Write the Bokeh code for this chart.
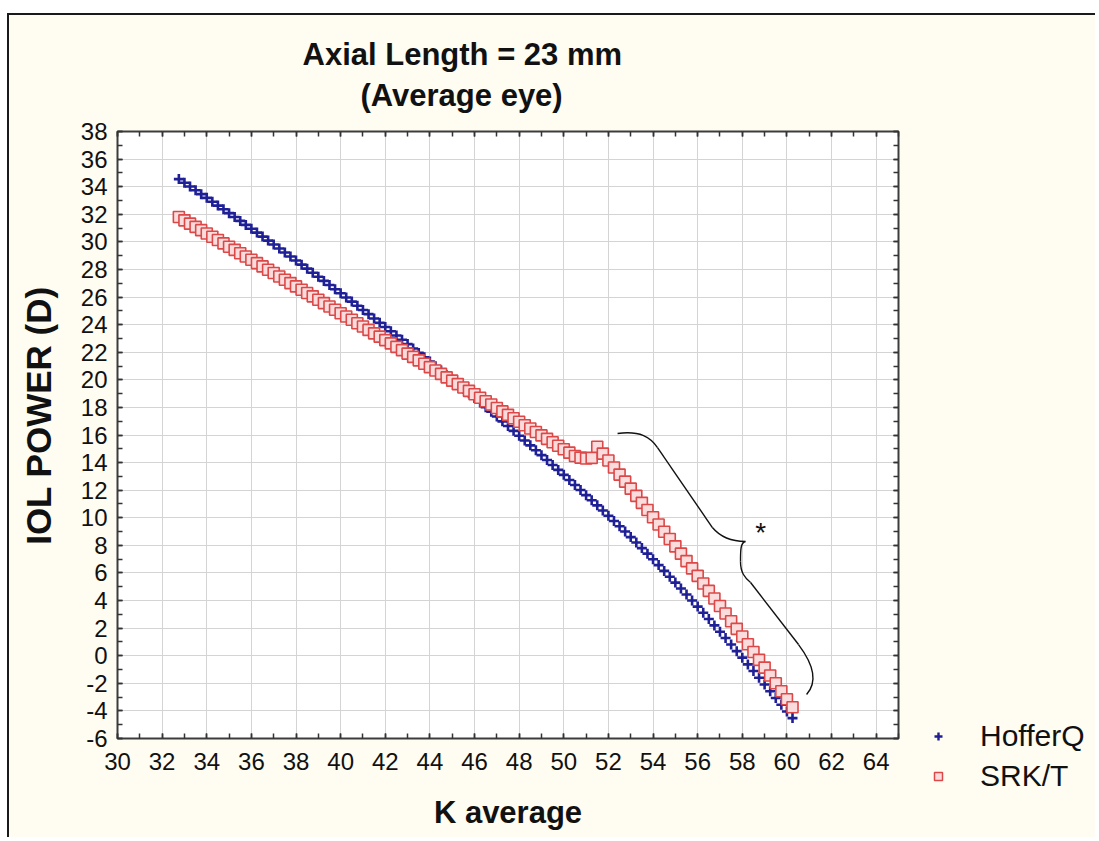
from bokeh.plotting import figure
from bokeh.layouts import row
from bokeh.models import Range1d, FixedTicker, LinearAxis, Label, Legend, Title
from bokeh.embed import file_html
from bokeh.resources import INLINE

# ---------------- data ----------------
k_avg = [32.75, 33.0, 33.25, 33.5, 33.75, 34.0, 34.25, 34.5, 34.75, 35.0,
         35.25, 35.5, 35.75, 36.0, 36.25, 36.5, 36.75, 37.0, 37.25, 37.5,
         37.75, 38.0, 38.25, 38.5, 38.75, 39.0, 39.25, 39.5, 39.75, 40.0,
         40.25, 40.5, 40.75, 41.0, 41.25, 41.5, 41.75, 42.0, 42.25, 42.5,
         42.75, 43.0, 43.25, 43.5, 43.75, 44.0, 44.25, 44.5, 44.75, 45.0,
         45.25, 45.5, 45.75, 46.0, 46.25, 46.5, 46.75, 47.0, 47.25, 47.5,
         47.75, 48.0, 48.25, 48.5, 48.75, 49.0, 49.25, 49.5, 49.75, 50.0,
         50.25, 50.5, 50.75, 51.0, 51.25, 51.5, 51.75, 52.0, 52.25, 52.5,
         52.75, 53.0, 53.25, 53.5, 53.75, 54.0, 54.25, 54.5, 54.75, 55.0,
         55.25, 55.5, 55.75, 56.0, 56.25, 56.5, 56.75, 57.0, 57.25, 57.5,
         57.75, 58.0, 58.25, 58.5, 58.75, 59.0, 59.25, 59.5, 59.75, 60.0,
         60.25]

hofferq = [34.55, 34.28, 34.01, 33.74, 33.46, 33.19, 32.91, 32.63, 32.36, 32.08,
           31.80, 31.52, 31.23, 30.95, 30.67, 30.38, 30.09, 29.81, 29.52, 29.23,
           28.94, 28.65, 28.35, 28.06, 27.76, 27.47, 27.17, 26.87, 26.57, 26.27,
           25.97, 25.67, 25.37, 25.06, 24.76, 24.45, 24.14, 23.83, 23.52, 23.21,
           22.90, 22.59, 22.27, 21.95, 21.64, 21.32, 20.99, 20.67, 20.34, 20.02,
           19.69, 19.36, 19.03, 18.69, 18.36, 18.02, 17.68, 17.34, 16.99, 16.65,
           16.30, 15.95, 15.60, 15.25, 14.90, 14.54, 14.19, 13.83, 13.47, 13.11,
           12.74, 12.38, 12.01, 11.64, 11.27, 10.90, 10.53, 10.15, 9.77, 9.39,
           9.00, 8.60, 8.21, 7.80, 7.40, 6.99, 6.57, 6.15, 5.73, 5.30,
           4.87, 4.44, 4.00, 3.56, 3.11, 2.66, 2.20, 1.74, 1.28, 0.81,
           0.33, -0.14, -0.63, -1.11, -1.60, -2.09, -2.57, -3.06, -3.55, -4.04,
           -4.52]

srkt = [31.80, 31.56, 31.32, 31.09, 30.85, 30.61, 30.37, 30.13, 29.89, 29.65,
        29.42, 29.18, 28.94, 28.70, 28.46, 28.22, 27.98, 27.74, 27.49, 27.25,
        27.01, 26.77, 26.53, 26.29, 26.05, 25.80, 25.56, 25.32, 25.08, 24.83,
        24.59, 24.35, 24.10, 23.86, 23.62, 23.37, 23.13, 22.88, 22.64, 22.39,
        22.15, 21.90, 21.66, 21.41, 21.17, 20.92, 20.68, 20.43, 20.18, 19.94,
        19.69, 19.44, 19.20, 18.95, 18.70, 18.45, 18.21, 17.96, 17.71, 17.46,
        17.21, 16.96, 16.71, 16.47, 16.22, 15.97, 15.72, 15.47, 15.22, 14.97,
        14.72, 14.48, 14.36, 14.30, 14.34, 15.15, 14.65, 14.15, 13.64, 13.13,
        12.62, 12.11, 11.59, 11.08, 10.56, 10.04, 9.51, 8.99, 8.46, 7.93,
        7.40, 6.86, 6.33, 5.79, 5.24, 4.70, 4.15, 3.61, 3.06, 2.50,
        1.95, 1.39, 0.83, 0.27, -0.30, -0.86, -1.43, -2.00, -2.58, -3.15,
        -3.73]

x_major = [30, 32, 34, 36, 38, 40, 42, 44, 46, 48, 50, 52, 54, 56, 58, 60, 62, 64]
x_minor = list(range(30, 66))
y_major = [-6, -4, -2, 0, 2, 4, 6, 8, 10, 12, 14, 16, 18, 20, 22, 24, 26, 28, 30, 32, 34, 36, 38]
y_minor = list(range(-6, 39))

title_1 = "Axial Length = 23 mm"
title_2 = "(Average eye)"
x_title = "K average"
y_title = "IOL POWER (D)"
series_names = ["HofferQ", "SRK/T"]

# ---------------- styles ----------------
FONT = "Liberation Sans"
CREAM = "#FFFCF1"
BLUE = "#1f1f96"
RED_LINE = "#dc4848"
RED_FILL = "#fbdcdc"

# ---------------- main figure ----------------
p = figure(width=910, height=822,
           x_range=Range1d(30, 65), y_range=Range1d(-6, 38),
           output_backend="svg", toolbar_location=None,
           min_border_left=108, min_border_right=21,
           min_border_top=116, min_border_bottom=99)
p.title = None
p.background_fill_color = "white"
p.border_fill_color = CREAM
p.outline_line_color = "#3c3c3c"
p.outline_line_width = 2

xt = FixedTicker(ticks=x_major, minor_ticks=x_minor)
yt = FixedTicker(ticks=y_major, minor_ticks=y_minor)

top_axis = LinearAxis(ticker=xt, major_label_overrides={t: "" for t in x_major},
                      major_label_standoff=0)
right_axis = LinearAxis(ticker=yt, major_label_overrides={t: "" for t in y_major},
                        major_label_standoff=0)
p.add_layout(top_axis, "above")
p.add_layout(right_axis, "right")

p.below[0].ticker = xt
p.left[0].ticker = yt

for ax in p.axis:
    ax.axis_line_color = None
    ax.major_tick_in = 5
    ax.major_tick_out = 0
    ax.minor_tick_in = 5
    ax.minor_tick_out = 0
    ax.major_tick_line_color = "#333333"
    ax.minor_tick_line_color = "#333333"
    ax.major_tick_line_width = 1.5
    ax.minor_tick_line_width = 1.5
    ax.major_label_text_font = FONT
    ax.major_label_text_font_size = "24px"
    ax.major_label_text_color = "#111111"
    ax.axis_label_text_font = FONT
    ax.axis_label_text_font_style = "bold"
    ax.axis_label_text_color = "#111111"

# invisible spacer above the top ticks: lifts the two title lines
spacer_axis = LinearAxis(ticker=xt, major_label_overrides={t: "" for t in x_major},
                         major_label_standoff=0, axis_line_color=None,
                         major_tick_in=0, major_tick_out=17,
                         minor_tick_in=0, minor_tick_out=0,
                         major_tick_line_color=None, minor_tick_line_color=None)
p.add_layout(spacer_axis, "above")

xb = p.below[0]
xb.major_label_standoff = 14
xb.axis_label = x_title
xb.axis_label_text_font_size = "31px"
xb.axis_label_standoff = 22

yl = p.left[0]
yl.major_label_standoff = 10
yl.major_label_overrides = {-6: "-6", -4: "-4", -2: "-2"}
yl.axis_label = "\u00a0\u00a0\u00a0\u00a0" + y_title
yl.axis_label_text_font_size = "35px"
yl.axis_label_standoff = 20

p.xgrid.ticker = xt
p.ygrid.ticker = yt
p.grid.grid_line_color = "#d4d4d4"
p.grid.grid_line_width = 1

# ---------------- titles ----------------
t2 = Title(text=title_2, align="left", offset=243, text_font=FONT, text_font_size="31px",
           text_font_style="bold", text_color="#111111", standoff=4)
t1 = Title(text=title_1, align="left", offset=185, text_font=FONT, text_font_size="31px",
           text_font_style="bold", text_color="#111111", standoff=4)
p.add_layout(t2, "above")
p.add_layout(t1, "above")

# ---------------- series ----------------
p.scatter(k_avg, hofferq, marker="cross", size=10, line_color=BLUE, line_width=2.6)
p.scatter(k_avg, srkt, marker="square", size=11,
          line_color=RED_LINE, fill_color=RED_FILL, line_width=1.6)

# ---------------- brace and asterisk ----------------
bk = dict(line_color="#111111", line_width=1.4)
p.bezier(x0=[52.41], y0=[16.11], x1=[54.20], y1=[15.09],
         cx0=[53.44], cy0=[16.33], cx1=[53.89], cy1=[15.82], **bk)
p.line([54.20, 56.66], [15.09, 9.29], **bk)
p.bezier(x0=[56.66], y0=[9.29], x1=[58.14], y1=[8.28],
         cx0=[57.11], cy0=[8.42], cx1=[57.70], cy1=[8.28], **bk)
p.bezier(x0=[58.14], y0=[8.28], x1=[57.92], y1=[6.83],
         cx0=[57.92], cy0=[8.21], cx1=[57.92], cy1=[7.63], **bk)
p.bezier(x0=[57.92], y0=[6.83], x1=[58.37], y1=[5.31],
         cx0=[57.92], cy0=[6.03], cx1=[58.10], cy1=[5.67], **bk)
p.line([58.37, 60.52], [5.31, 0.81], **bk)
p.bezier(x0=[60.52], y0=[0.81], x1=[60.88], y1=[-2.81],
         cx0=[61.33], cy0=[-0.93], cx1=[61.28], cy1=[-2.09], **bk)

p.add_layout(Label(x=58.82, y=8.93, text="*", text_font=FONT, text_font_size="28px",
                   text_align="center", text_baseline="middle", text_color="#111111"))

# ---------------- legend panel (second figure, right of the plot) ----------------
# its ranges keep the copied series out of view; only the legend shows
q = figure(width=176, height=822, x_range=Range1d(0, 1), y_range=Range1d(100, 101),
           x_axis_type=None, y_axis_type=None,
           output_backend="svg", toolbar_location=None,
           min_border_left=0, min_border_right=0, min_border_top=0, min_border_bottom=0)
q.frame_align = False
q.title = None
q.background_fill_color = CREAM
q.border_fill_color = CREAM
q.outline_line_color = None
lb = q.scatter(k_avg, hofferq, marker="cross", size=9, line_color=BLUE, line_width=2.4)
lr = q.scatter(k_avg, srkt, marker="square", size=9,
               line_color=RED_LINE, fill_color=RED_FILL, line_width=1.5)
legend = Legend(items=[(series_names[0], [lb]), (series_names[1], [lr])],
                location=(9, 41), orientation="vertical",
                label_text_font=FONT, label_text_font_size="30px",
                label_text_color="#111111",
                glyph_width=20, glyph_height=40, label_height=40,
                spacing=0, padding=0, margin=0, label_standoff=32,
                border_line_color=None, background_fill_alpha=0)
q.add_layout(legend)

layout = row(p, q)
layout.styles = {"margin-left": "7px", "margin-top": "13px",
                 "border-left": "2px solid #1a1a1a", "border-top": "2px solid #1a1a1a",
                 "background-color": CREAM}

open("out.html", "w").write(file_html(layout, INLINE))
